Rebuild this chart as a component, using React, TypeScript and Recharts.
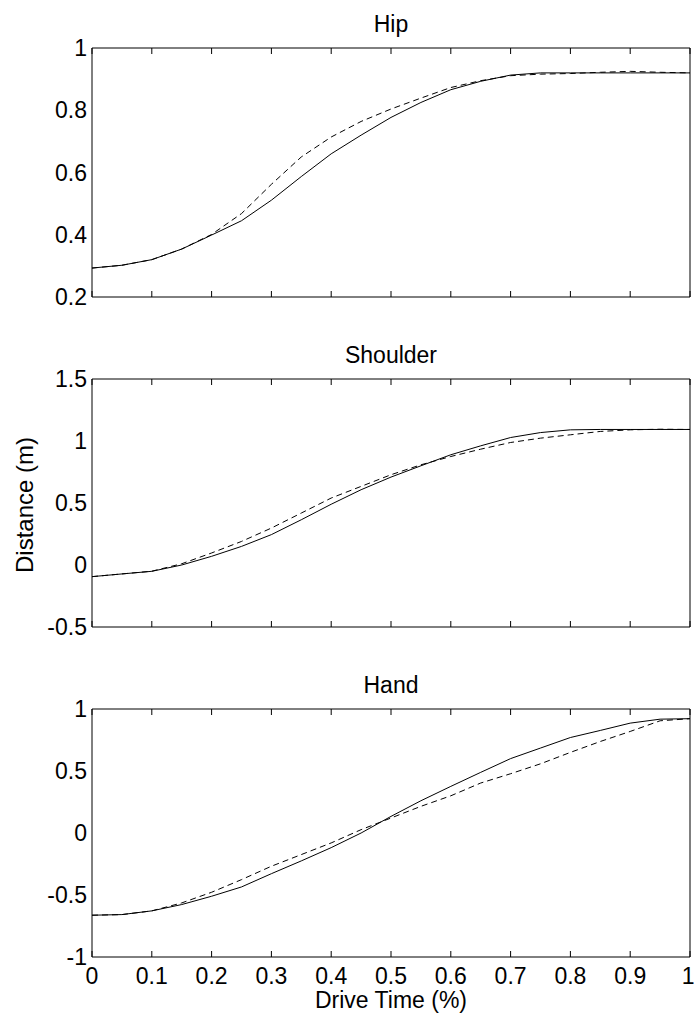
import React from "react";
import { LineChart, Line, XAxis, YAxis, Label } from "recharts";

const time = [0, 0.05, 0.1, 0.15, 0.2, 0.25, 0.3, 0.35, 0.4, 0.45, 0.5, 0.55, 0.6, 0.65, 0.7, 0.75, 0.8, 0.85, 0.9, 0.95, 1];
const timeTicks = [0, 0.1, 0.2, 0.3, 0.4, 0.5, 0.6, 0.7, 0.8, 0.9, 1];

const hipSolid = [0.293, 0.302, 0.32, 0.354, 0.399, 0.445, 0.511, 0.587, 0.66, 0.72, 0.777, 0.825, 0.866, 0.893, 0.913, 0.92, 0.92, 0.92, 0.92, 0.92, 0.92];
const hipDashed = [0.293, 0.302, 0.32, 0.354, 0.401, 0.468, 0.562, 0.65, 0.714, 0.764, 0.804, 0.839, 0.873, 0.895, 0.911, 0.916, 0.918, 0.922, 0.925, 0.922, 0.92];
const hipTicks = [0.2, 0.4, 0.6, 0.8, 1];

const shoulderSolid = [-0.094, -0.072, -0.051, 0.0, 0.07, 0.15, 0.245, 0.365, 0.49, 0.607, 0.709, 0.8, 0.889, 0.961, 1.028, 1.068, 1.09, 1.093, 1.093, 1.093, 1.093];
const shoulderDashed = [-0.094, -0.072, -0.05, 0.01, 0.097, 0.19, 0.298, 0.419, 0.54, 0.634, 0.728, 0.808, 0.875, 0.934, 0.988, 1.023, 1.05, 1.077, 1.09, 1.095, 1.093];
const shoulderTicks = [-0.5, 0, 0.5, 1, 1.5];

const handSolid = [-0.663, -0.658, -0.628, -0.577, -0.51, -0.435, -0.328, -0.225, -0.118, 0.0, 0.134, 0.26, 0.376, 0.489, 0.6, 0.685, 0.77, 0.827, 0.886, 0.918, 0.922];
const handDashed = [-0.663, -0.658, -0.628, -0.564, -0.478, -0.376, -0.268, -0.174, -0.08, 0.027, 0.121, 0.215, 0.3, 0.403, 0.478, 0.558, 0.65, 0.738, 0.819, 0.905, 0.922];
const handTicks = [-1, -0.5, 0, 0.5, 1];

const FONT = "'Liberation Sans', Arial, Helvetica, sans-serif";
const FS = 23;
const tickStyle = { fill: "#000", fontSize: FS, fontFamily: FONT };
const textStyle = { fill: "#000", fontSize: FS, fontFamily: FONT };
const W = 694;
const H = 1014;
const LEFT = 92;
const RIGHT = 690;
const AX_H = 20;
const Y_W = 60;

const NoTick = () => <g />;

type PanelProps = {
  title: string;
  solid: number[];
  dashed: number[];
  yTicks: number[];
  plotTop: number;
  plotBottom: number;
  showX?: boolean;
  yLabel?: string;
};

const Panel = ({ title, solid, dashed, yTicks, plotTop, plotBottom, showX, yLabel }: PanelProps) => {
  const data = time.map((t, i) => ({ t, solid: solid[i], dashed: dashed[i] }));
  const domain: [number, number] = [yTicks[0], yTicks[yTicks.length - 1]];
  const mid = 505;
  const margin = {
    top: plotTop,
    bottom: H - plotBottom - AX_H,
    left: LEFT - Y_W,
    right: W - RIGHT,
  };
  return (
    <div style={{ position: "absolute", left: 0, top: 0 }}>
      <LineChart width={W} height={H} data={data} margin={margin}>
        {/* bottom axis: line + labels */}
        <XAxis
          dataKey="t"
          type="number"
          domain={[0, 1]}
          ticks={timeTicks}
          height={AX_H}
          tickSize={0}
          tickMargin={11}
          tickLine={false}
          tick={showX ? tickStyle : false}
          axisLine={{ stroke: "#000" }}
        >
          {showX && <Label value="Drive Time (%)" position="bottom" offset={15} style={textStyle} />}
        </XAxis>
        {/* inward tick marks, bottom */}
        <XAxis
          xAxisId="bt"
          orientation="bottom"
          mirror
          dataKey="t"
          type="number"
          domain={[0, 1]}
          ticks={timeTicks}
          height={1}
          tickSize={6}
          tick={NoTick}
          axisLine={false}
          tickLine={{ stroke: "#000" }}
        />
        {/* top box edge with inward ticks */}
        <XAxis
          xAxisId="top"
          orientation="top"
          mirror
          dataKey="t"
          type="number"
          domain={[0, 1]}
          ticks={timeTicks}
          height={1}
          tickSize={6}
          tick={NoTick}
          axisLine={{ stroke: "#000" }}
          tickLine={{ stroke: "#000" }}
        >
          <Label value={title} position="top" offset={16} style={textStyle} />
        </XAxis>
        {/* left axis: line + labels */}
        <YAxis
          type="number"
          domain={domain}
          ticks={yTicks}
          width={Y_W}
          tickSize={0}
          tickMargin={5}
          tickLine={false}
          tick={tickStyle}
          axisLine={{ stroke: "#000" }}
        >
          {yLabel && (
            <Label
              content={() => (
                <text
                  x={33}
                  y={mid}
                  transform={`rotate(-90, 33, ${mid})`}
                  textAnchor="middle"
                  fill="#000"
                  fontSize={24}
                  fontFamily={FONT}
                >
                  {yLabel}
                </text>
              )}
            />
          )}
        </YAxis>
        {/* inward tick marks, left */}
        <YAxis
          yAxisId="lt"
          orientation="left"
          mirror
          type="number"
          domain={domain}
          ticks={yTicks}
          width={1}
          tickSize={6}
          tick={NoTick}
          axisLine={false}
          tickLine={{ stroke: "#000" }}
        />
        {/* right box edge with inward ticks */}
        <YAxis
          yAxisId="right"
          orientation="right"
          mirror
          type="number"
          domain={domain}
          ticks={yTicks}
          width={1}
          tickSize={6}
          tick={NoTick}
          axisLine={{ stroke: "#000" }}
          tickLine={{ stroke: "#000" }}
        />
        <Line dataKey="dashed" stroke="#000" strokeWidth={1} strokeDasharray="6 4" dot={false} isAnimationActive={false} />
        <Line dataKey="solid" stroke="#000" strokeWidth={1} dot={false} isAnimationActive={false} />
      </LineChart>
    </div>
  );
};

export default function App() {
  return (
    <div style={{ position: "relative", width: W, height: H, background: "#fff", overflow: "hidden" }}>
      <style>{"body{margin:0;overflow:hidden;}"}</style>
      <Panel title="Hip" solid={hipSolid} dashed={hipDashed} yTicks={hipTicks} plotTop={48} plotBottom={297} />
      <Panel
        title="Shoulder"
        solid={shoulderSolid}
        dashed={shoulderDashed}
        yTicks={shoulderTicks}
        plotTop={379}
        plotBottom={627}
        yLabel="Distance (m)"
      />
      <Panel title="Hand" solid={handSolid} dashed={handDashed} yTicks={handTicks} plotTop={709} plotBottom={957} showX />
    </div>
  );
}
